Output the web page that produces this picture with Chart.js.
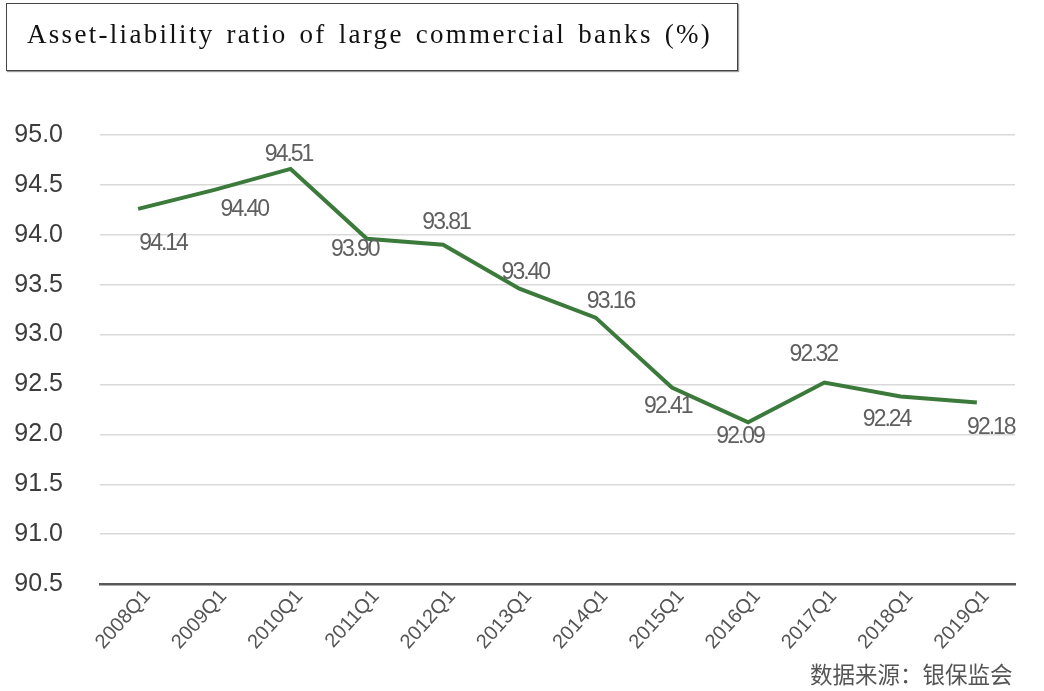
<!DOCTYPE html>
<html>
<head>
<meta charset="utf-8">
<script src="https://cdn.jsdelivr.net/npm/chart.js@4.4.1/dist/chart.umd.min.js"></script>
<style>
  body { margin: 0; background: #fff; width: 1044px; height: 691px; position: relative; overflow: hidden; }
  #title {
    position: absolute; left: 6px; top: 3px; width: 732px; height: 68px;
    border: 1px solid #444; box-shadow: 1px 1px 1px #999;
    font-family: "Liberation Serif", serif; font-size: 27px; color: #111;
    letter-spacing: 2.3px; word-spacing: 3px; line-height: 60px;
    padding-left: 20px; box-sizing: border-box; white-space: nowrap;
  }
  #source {
    position: absolute; left: 810px; top: 658px;
    font-family: "Noto Sans CJK SC", sans-serif; font-size: 22.5px; color: #555;
    white-space: nowrap; line-height: 30px;
  }
  #wrap { position: absolute; left: 0; top: 0; width: 1044px; height: 691px; }
</style>
</head>
<body>
<div id="wrap"><canvas id="myChart"></canvas></div>
<div id="title">Asset-liability ratio of large commercial banks (%)</div>
<div id="source">数据来源：银保监会</div>
<script>
// categories on the x axis
const quarters = ["2008Q1", "2009Q1", "2010Q1", "2011Q1", "2012Q1", "2013Q1",
                  "2014Q1", "2015Q1", "2016Q1", "2017Q1", "2018Q1", "2019Q1"];
// line heights
const ratio = [94.26, 94.45, 94.66, 93.96, 93.90, 93.46, 93.17, 92.47, 92.12, 92.52, 92.38, 92.32];
// value labels printed next to the line
const printed = ["94.14", "94.40", "94.51", "93.90", "93.81", "93.40",
                 "93.16", "92.41", "92.09", "92.32", "92.24", "92.18"];
// y axis range
const yMin = 90.5;
const yMax = 95.0;
const yStep = 0.5;

// where each printed label sits relative to its point (px)
const labelShift = [[25, 35], [30, 20], [-2, -14], [-12, 11], [3, -22], [6, -16],
                    [15, -16], [-4, 19], [-8, 14], [-11, -28], [-14, 23], [14, 25]];

//draw the printed values beside the line
const valueLabels = {
  id: "valueLabels",
  afterDatasetsDraw(chart) {
    const ctx = chart.ctx;
    const meta = chart.getDatasetMeta(0);
    ctx.save();
    ctx.font = "23px 'Liberation Sans', Arial, sans-serif";
    ctx.letterSpacing = "-2px";
    ctx.fillStyle = "#5f5f5f";
    ctx.textAlign = "center";
    ctx.textBaseline = "middle";
    meta.data.forEach((pt, i) => {
      const s = labelShift[i];
      ctx.fillText(printed[i], pt.x + s[0], pt.y + s[1]);
    });
    ctx.restore();
  }
};

const data = {
  labels: quarters,
  datasets: [{
    data: ratio,
    borderColor: "#3b7a3b",
    borderWidth: 4,
    pointRadius: 0,
    tension: 0,
    fill: false
  }]
};

const config = {
  type: "line",
  data,
  options: {
    responsive: false,
    animation: false,
    layout: { padding: { top: 135, right: 29, bottom: 36, left: 13 } },
    plugins: {
      legend: { display: false },
      tooltip: { enabled: false }
    },
    scales: {
      x: {
        offset: true,
        grid: { display: false, drawTicks: false },
        border: { display: true, color: "#595959", width: 2.5 },
        ticks: {
          minRotation: 48,
          maxRotation: 48,
          padding: 1,
          labelOffset: 9,
          color: "#555",
          font: { family: "'Liberation Sans', Arial, sans-serif", size: 20 }
        },
        // rotated labels should not push the plot area inwards
        afterFit: (scale) => { scale.paddingLeft = 0; scale.paddingRight = 0; }
      },
      y: {
        min: yMin,
        max: yMax,
        grid: { color: "#d9d9d9", lineWidth: 1.5, drawTicks: false },
        border: { display: false },
        ticks: {
          stepSize: yStep,
          padding: 37,
          color: "#3c3c3c",
          font: { family: "'Liberation Sans', Arial, sans-serif", size: 25 },
          callback: (v) => v.toFixed(1)
        },
        // chart.js reserves the padding on both sides of the labels, keep only one
        afterFit: (scale) => { scale.width = 87; }
      }
    }
  },
  plugins: [valueLabels]
};

const ctx = document.getElementById("myChart");
ctx.width = 1044;
ctx.height = 691;
const myChart = new Chart(ctx, config);
</script>
</body>
</html>
